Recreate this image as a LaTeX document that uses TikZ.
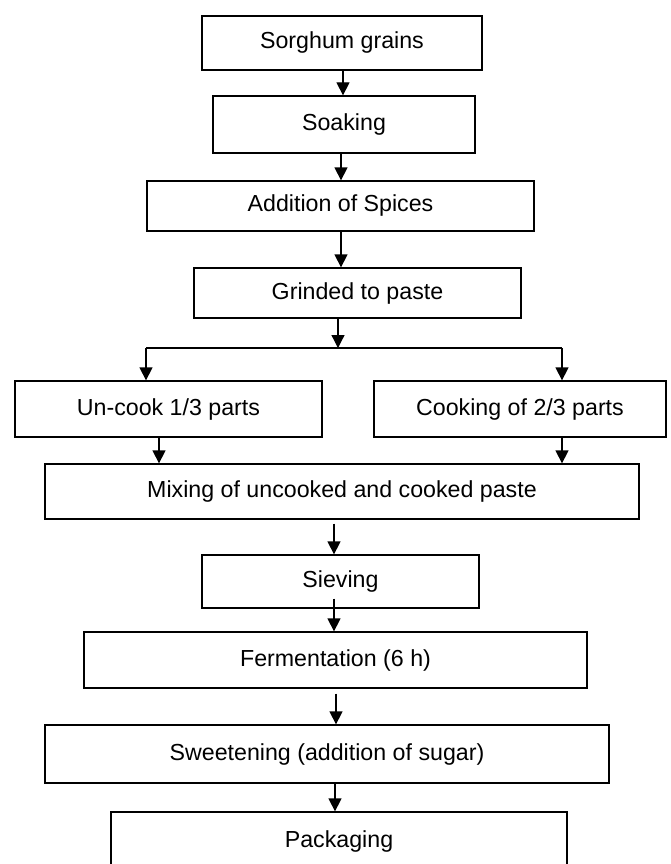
\documentclass[tikz,border=0pt]{standalone}
\usepackage{fontspec}
\setmainfont{Liberation Sans}
\usetikzlibrary{arrows.meta}
\begin{document}
\begin{tikzpicture}[x=1pt,y=-1pt,
  box/.style={draw=black,line width=1.3pt,rectangle,inner sep=0pt,align=center,
    font=\fontsize{23.2}{28}\selectfont},
  arr/.style={line width=1.3pt,-{Triangle[width=13pt,length=13pt]}},
  ln/.style={line width=1.3pt}]
\useasboundingbox (0,0) rectangle (670,864);
\clip (0,0) rectangle (670,864);
\fill[white] (0,0) rectangle (670,864);

\node[box,minimum width=280pt,minimum height=54pt] (sorghum) at (342,43) {Sorghum grains};
\node[box,minimum width=262pt,minimum height=57pt] (soak) at (344,124.5) {Soaking};
\node[box,minimum width=387pt,minimum height=50pt] (spice) at (340.5,206) {Addition of Spices};
\node[box,minimum width=327pt,minimum height=50pt] (grind) at (357.5,293) {Grinded to paste};
\node[box,minimum width=307pt,minimum height=56pt] (uncook) at (168.5,409) {Un-cook 1/3 parts};
\node[box,minimum width=292pt,minimum height=56pt] (cook) at (520,409) {Cooking of 2/3 parts};
\node[box,minimum width=594pt,minimum height=55pt] (mix) at (342,491.5) {Mixing of uncooked and cooked paste};
\node[box,minimum width=277pt,minimum height=53pt] (sieve) at (340.5,581.5) {Sieving};
\node[box,minimum width=503pt,minimum height=56pt] (ferm) at (335.5,660) {Fermentation (6 h)};
\node[box,minimum width=564pt,minimum height=58pt] (sweet) at (327,754) {Sweetening (addition of sugar)};
\node[box,minimum width=456pt,minimum height=58pt] (pack) at (339,841) {Packaging};

\coordinate (br) at (338,348);
\coordinate (bl) at (146,348);
\coordinate (brr) at (562,348);

\draw[arr] ([xshift=1pt]sorghum.south) -- ([xshift=-1pt]soak.north);
\draw[arr] ([xshift=-3pt]soak.south) -- ([xshift=0.5pt]spice.north);
\draw[arr] ([xshift=0.5pt]spice.south) -- ([xshift=-16.5pt]grind.north);
\draw[arr] ([xshift=-19.5pt]grind.south) -- (br);
\draw[ln] (bl) -- (brr);
\draw[arr] (bl) -- (uncook.north -| bl);
\draw[arr] (brr) -- (cook.north -| brr);
\draw[arr] ([xshift=-9.5pt]uncook.south) -- ([xshift=-183pt]mix.north);
\draw[arr] ([xshift=42pt]cook.south) -- ([xshift=220pt]mix.north);
\draw[arr] ([xshift=-8pt,yshift=-4pt]mix.south) -- ([xshift=-6.5pt]sieve.north);
\draw[arr] ([xshift=-6.5pt,yshift=10pt]sieve.south) -- ([xshift=-1.5pt]ferm.north);
\draw[arr] ([xshift=0.5pt,yshift=-5pt]ferm.south) -- ([xshift=9pt]sweet.north);
\draw[arr] ([xshift=8pt]sweet.south) -- ([xshift=-4pt]pack.north);
\end{tikzpicture}
\end{document}
